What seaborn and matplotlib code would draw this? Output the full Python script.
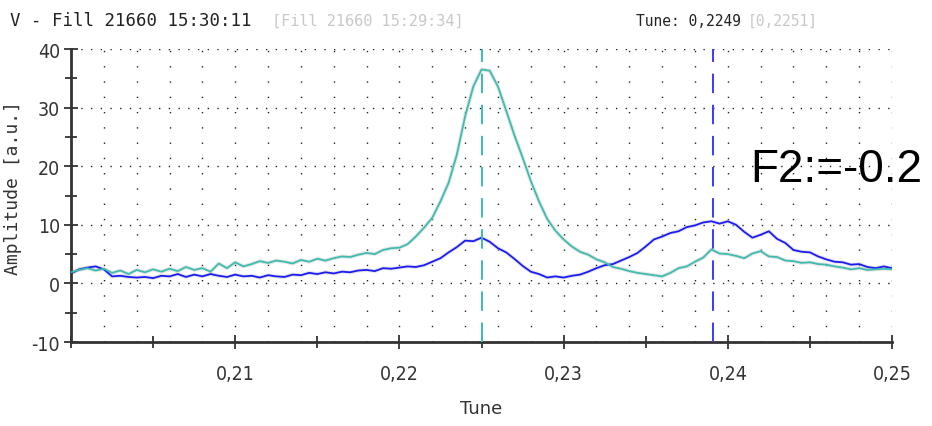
import numpy as np
import pandas as pd
import matplotlib
matplotlib.use("Agg")
import matplotlib.pyplot as plt
from matplotlib import font_manager
from matplotlib.ticker import MultipleLocator, FuncFormatter
import seaborn as sns

# tune scan, one sample every 0.0005
tune = np.round(np.arange(0.2, 0.25001, 0.0005), 4)

# horizontal plane (teal)
amp_h = [
    1.9, 2.3, 2.6, 2.2, 2.5, 1.8, 2.2, 1.6, 2.3, 1.9,
    2.4, 2.0, 2.5, 2.1, 2.8, 2.3, 2.6, 2.0, 3.4, 2.6,
    3.6, 2.9, 3.3, 3.8, 3.5, 3.9, 3.7, 3.4, 4.0, 3.7,
    4.2, 3.9, 4.3, 4.6, 4.5, 4.9, 5.2, 5.0, 5.7, 6.0,
    6.1, 6.7, 8.0, 9.5, 11.2, 14.0, 17.2, 22.0, 28.5, 33.6,
    36.5, 36.3, 33.6, 29.5, 25.3, 21.5, 17.5, 14.0, 11.0, 9.0,
    7.5, 6.3, 5.4, 4.9, 4.1, 3.6, 2.8, 2.5, 2.1, 1.8,
    1.6, 1.4, 1.2, 1.8, 2.6, 2.9, 3.7, 4.4, 5.8, 5.1,
    5.0, 4.7, 4.3, 5.1, 5.5, 4.6, 4.5, 3.9, 3.8, 3.5,
    3.6, 3.3, 3.2, 2.9, 2.7, 2.4, 2.6, 2.3, 2.4, 2.5,
    2.4,
]

# vertical plane (blue)
amp_v = [
    1.7, 2.4, 2.7, 2.9, 2.4, 1.2, 1.3, 1.1, 1.0, 1.1,
    0.9, 1.3, 1.2, 1.6, 1.1, 1.5, 1.2, 1.6, 1.3, 1.1,
    1.5, 1.2, 1.3, 1.0, 1.4, 1.2, 1.1, 1.5, 1.4, 1.8,
    1.6, 1.9, 1.7, 2.0, 1.9, 2.2, 2.3, 2.1, 2.6, 2.5,
    2.7, 2.9, 2.8, 3.1, 3.7, 4.3, 5.3, 6.2, 7.3, 7.2,
    7.8, 7.1, 6.0, 5.3, 4.2, 3.0, 2.0, 1.6, 1.0, 1.2,
    1.0, 1.3, 1.5, 2.0, 2.6, 3.1, 3.3, 3.9, 4.5, 5.2,
    6.3, 7.5, 8.0, 8.6, 8.9, 9.6, 9.9, 10.4, 10.6, 10.2,
    10.6, 10.0, 8.8, 7.8, 8.3, 8.9, 7.6, 6.9, 5.7, 5.4,
    5.3, 4.6, 4.1, 3.7, 3.6, 3.2, 3.3, 2.8, 2.6, 2.9,
    2.6,
]

tune_h_marker = 0.225
tune_v_marker = 0.2391
x_ticks = [0.21, 0.22, 0.23, 0.24, 0.25]

df = pd.DataFrame({"tune": tune, "H": amp_h, "V": amp_v})

teal = "#3dbcaf"
blue = "#1c1cf2"

sns.set_style("white")

names = {f.name for f in font_manager.fontManager.ttflist}
narrow = "Liberation Sans Narrow" if "Liberation Sans Narrow" in names else "DejaVu Sans"
mono = "DejaVu Sans Mono"

fig = plt.figure(figsize=(9.32, 4.27), dpi=100)
ax = fig.add_axes([0.0762, 0.1967, 0.8809, 0.6862])

# dotted grid
for gx in np.arange(0.2, 0.25001, 0.002):
    ax.axvline(gx, color="#222222", lw=1.0, ls=(0, (1, 10)), zorder=0)
for gy in np.arange(0, 41, 10):
    ax.axhline(gy, color="#222222", lw=1.0, ls=(0, (1, 6)), zorder=0)

# faint grey halo for the previous fill
sns.lineplot(data=df, x="tune", y="H", color="#cccccc", lw=2.8, alpha=0.5, ax=ax, zorder=1)
sns.lineplot(data=df, x="tune", y="V", color="#cccccc", lw=2.8, alpha=0.5, ax=ax, zorder=1)
sns.lineplot(data=df, x="tune", y="H", color=teal, lw=1.3, ax=ax, zorder=3)
sns.lineplot(data=df, x="tune", y="V", color=blue, lw=1.3, ax=ax, zorder=2)

ax.axvline(tune_h_marker, color=teal, lw=1.4, ls=(0, (10, 6)), zorder=4)
ax.axvline(tune_v_marker, color="#3a3aff", lw=1.4, ls=(0, (10, 6)), zorder=4)

ax.set_xlim(0.2, 0.25)
ax.set_ylim(-10, 40)

ax.xaxis.set_major_locator(MultipleLocator(0.01))
ax.xaxis.set_minor_locator(MultipleLocator(0.005))
ax.yaxis.set_major_locator(MultipleLocator(10))
ax.yaxis.set_minor_locator(MultipleLocator(5))
ax.set_xticks(x_ticks)
ax.xaxis.set_major_formatter(FuncFormatter(lambda v, p: f"{v:.2f}".replace(".", ",")))
ax.yaxis.set_major_formatter(FuncFormatter(lambda v, p: f"{v:.0f}"))

for side in ["top", "right"]:
    ax.spines[side].set_visible(False)
for side in ["left", "bottom"]:
    ax.spines[side].set_color("#333333")
    ax.spines[side].set_linewidth(2)

ax.tick_params(axis="both", which="major", direction="inout", length=10, width=1.3,
               color="#333333", labelsize=14, pad=3, bottom=True, left=True)
ax.tick_params(axis="both", which="minor", direction="inout", length=8, width=1.3,
               color="#333333", bottom=True, left=True)
ax.tick_params(axis="x", which="major", pad=11)
for lab in ax.get_xticklabels() + ax.get_yticklabels():
    lab.set_family(narrow)
    lab.set_stretch("condensed")
    lab.set_color("#333333")

ax.set_xlabel("Tune", family=narrow, fontsize=13, color="#333333", labelpad=11)
ax.set_ylabel("Amplitude [a.u.]", family=mono, fontsize=13, color="#333333")
ax.yaxis.set_label_coords(-0.06, 0.53)

fig.text(10 / 932, 1 - 21 / 427, "V - Fill 21660 15:30:11", family=mono, fontsize=12.5,
         color="#222222", va="center")
fig.text(272 / 932, 1 - 21 / 427, "[Fill 21660 15:29:34]", family=mono, fontsize=11,
         color="#c8c8c8", va="center")
fig.text(636 / 932, 1 - 21 / 427, "Tune: 0,2249", family=mono, fontsize=10.5,
         color="#222222", va="center")
fig.text(748 / 932, 1 - 21 / 427, "[0,2251]", family=mono, fontsize=10.5,
         color="#c8c8c8", va="center")

fig.text(750 / 932, 1 - 182 / 427, "F2:=-0.2", family="Liberation Sans", fontsize=33,
         color="black", va="baseline")

fig.savefig("out.png", dpi=100)
